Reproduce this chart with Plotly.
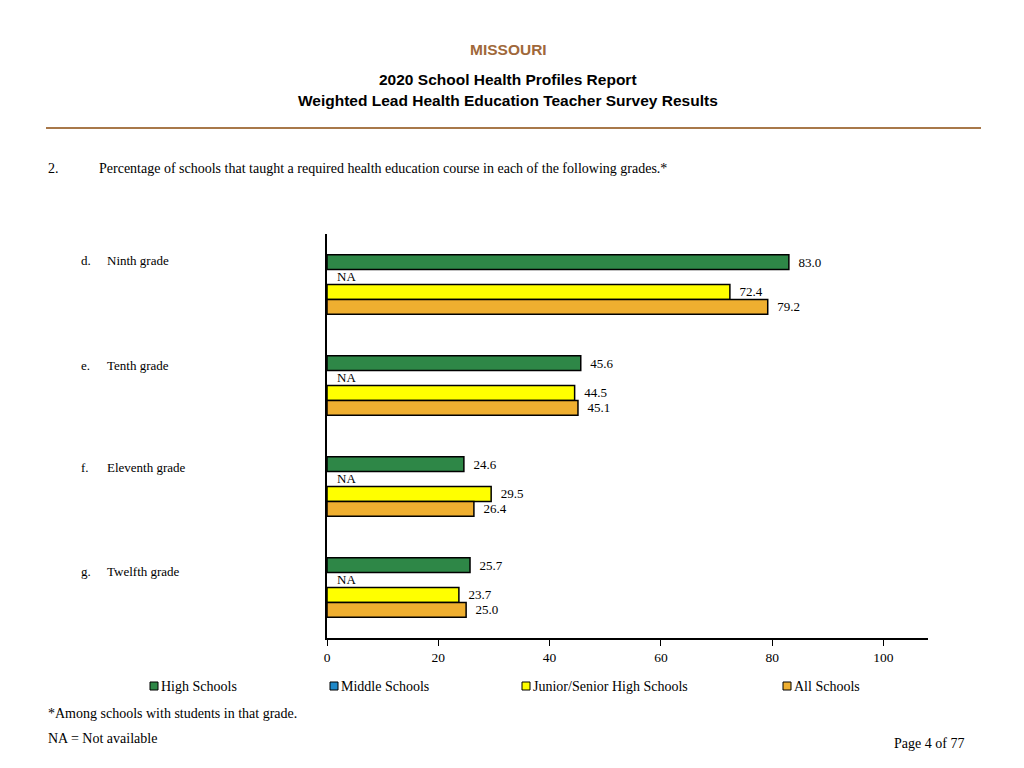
import plotly.graph_objects as go

# ---------------- data ----------------
categories = ["Ninth grade", "Tenth grade", "Eleventh grade", "Twelfth grade"]
cat_letters = ["d.", "e.", "f.", "g."]
series_names = ["High Schools", "Middle Schools", "Junior/Senior High Schools", "All Schools"]
high_schools = [83.0, 45.6, 24.6, 25.7]
middle_schools = [None, None, None, None]  # NA
junior_senior = [72.4, 44.5, 29.5, 23.7]
all_schools = [79.2, 45.1, 26.4, 25.0]
series_values = [high_schools, middle_schools, junior_senior, all_schools]
series_colors = ["#2E8747", "#1E88C8", "#FFFF00", "#EFAF30"]
x_ticks = [0, 20, 40, 60, 80, 100]

# layout-only: vertical pixel nudges of the category labels
label_shifts = [24, 20, 19, 16]

SCREEN_W, SCREEN_H = 1024, 768
OFF = 8  # page body margin
W, H = SCREEN_W - OFF, SCREEN_H - OFF
L, R, T, B = 327, 928, 234, 638  # plot area in screen pixels


def fx(px):
    return (px - L) / (R - L)


def fy(py):
    return (B - py) / (B - T)


serif = "Liberation Serif"
sans = "Liberation Sans"

fig = go.Figure()
for name, vals, col in zip(series_names, series_values, series_colors):
    txt = [("  %.1f" % v) if v is not None else "" for v in vals]
    fig.add_trace(go.Bar(
        y=categories, x=vals, name=name, orientation="h",
        marker=dict(color=col, line=dict(color="black", width=1.5)),
        text=txt, textposition="outside", constraintext="none",
        textfont=dict(family=serif, size=13, color="black"),
        cliponaxis=False, showlegend=False,
    ))

annotations = []
# NA labels for Middle Schools (second slot in each group)
for c, v in zip(categories, middle_schools):
    if v is None:
        annotations.append(dict(x=0, y=c, xref="x", yref="y", text="NA", showarrow=False,
                                xanchor="left", yanchor="middle", xshift=8, yshift=8,
                                font=dict(family=serif, size=13, color="black")))

# category labels
for c, letter, sh in zip(categories, cat_letters, label_shifts):
    annotations.append(dict(x=fx(79), y=c, xref="paper", yref="y", text=letter, showarrow=False,
                            xanchor="left", yanchor="middle", yshift=sh,
                            font=dict(family=serif, size=13, color="black")))
    annotations.append(dict(x=fx(105), y=c, xref="paper", yref="y", text=c, showarrow=False,
                            xanchor="left", yanchor="middle", yshift=sh,
                            font=dict(family=serif, size=13, color="black")))

# header
annotations += [
    dict(x=fx(508), y=fy(49), xref="paper", yref="paper", text="<b>MISSOURI</b>", showarrow=False,
         xanchor="center", yanchor="middle", font=dict(family=sans, size=15.5, color="#A0683A")),
    dict(x=fx(508), y=fy(79), xref="paper", yref="paper", text="<b>2020 School Health Profiles Report</b>",
         showarrow=False, xanchor="center", yanchor="middle", font=dict(family=sans, size=15.5, color="black")),
    dict(x=fx(508), y=fy(101), xref="paper", yref="paper",
         text="<b>Weighted Lead Health Education Teacher Survey Results</b>",
         showarrow=False, xanchor="center", yanchor="middle", font=dict(family=sans, size=15.5, color="black")),
    dict(x=fx(46), y=fy(168), xref="paper", yref="paper", text="2.", showarrow=False,
         xanchor="left", yanchor="middle", font=dict(family=serif, size=14, color="black")),
    dict(x=fx(97), y=fy(168), xref="paper", yref="paper",
         text="Percentage of schools that taught a required health education course in each of the following grades.*",
         showarrow=False, xanchor="left", yanchor="middle", font=dict(family=serif, size=14, color="black")),
    dict(x=fx(46), y=fy(713), xref="paper", yref="paper", text="*Among schools with students in that grade.",
         showarrow=False, xanchor="left", yanchor="middle", font=dict(family=serif, size=14, color="black")),
    dict(x=fx(46), y=fy(738), xref="paper", yref="paper", text="NA = Not available",
         showarrow=False, xanchor="left", yanchor="middle", font=dict(family=serif, size=14, color="black")),
    dict(x=fx(966), y=fy(743), xref="paper", yref="paper", text="Page 4 of 77",
         showarrow=False, xanchor="right", yanchor="middle", font=dict(family=serif, size=14, color="black")),
]

shapes = [dict(type="line", xref="paper", yref="paper", x0=fx(46), x1=fx(981), y0=fy(128), y1=fy(128),
               line=dict(color="#A8784A", width=2))]

# custom legend
legend_x = [150, 330, 522, 783]
for lx, name, col in zip(legend_x, series_names, series_colors):
    shapes.append(dict(type="rect", xref="paper", yref="paper", x0=fx(lx), x1=fx(lx + 8),
                       y0=fy(690), y1=fy(682), fillcolor=col, line=dict(color="black", width=1)))
    annotations.append(dict(x=fx(lx + 9), y=fy(686), xref="paper", yref="paper", text=name,
                            showarrow=False, xanchor="left", yanchor="middle",
                            font=dict(family=serif, size=14, color="black")))

fig.update_layout(
    width=W, height=H,
    margin=dict(l=L - OFF, r=SCREEN_W - R, t=T - OFF, b=SCREEN_H - B, pad=0),
    paper_bgcolor="white", plot_bgcolor="white",
    barmode="group", bargap=0.41, bargroupgap=0,
    xaxis=dict(range=[0, 108], tickvals=x_ticks, ticktext=[str(t) for t in x_ticks],
               showgrid=False, zeroline=False, showline=True, linecolor="black", linewidth=1.5,
               ticks="outside", ticklen=6, tickcolor="black", tickwidth=1,
               tickfont=dict(family=serif, size=13.5, color="black")),
    yaxis=dict(categoryorder="array", categoryarray=categories, autorange="reversed",
               range=[3.5, -0.5], showticklabels=False, showgrid=False, zeroline=False,
               showline=True, linecolor="black", linewidth=1.5, ticks=""),
    annotations=annotations, shapes=shapes,
    showlegend=False,
)

fig.write_html("out.html")
